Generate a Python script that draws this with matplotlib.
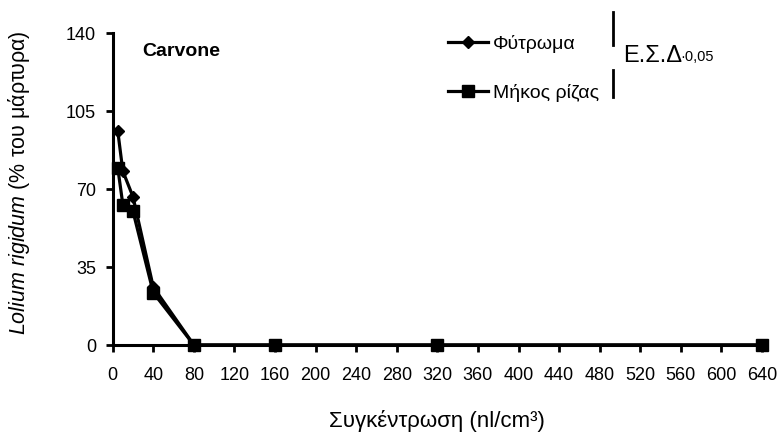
import matplotlib
matplotlib.use("Agg")
import matplotlib.pyplot as plt

plt.rcParams['font.family'] = ['Liberation Sans', 'DejaVu Sans']
plt.rcParams['mathtext.fontset'] = 'custom'
plt.rcParams['mathtext.rm'] = 'Liberation Sans'
plt.rcParams['mathtext.it'] = 'Liberation Sans:italic'

# Concentrations (nl/cm3) and responses (% of control)
conc = [5, 10, 20, 40, 80, 160, 320, 640]
germination = [96, 78, 66.5, 26, 0, 0, 0, 0]      # Φύτρωμα
root_length = [79.5, 63, 60, 23.5, 0, 0, 0, 0]    # Μήκος ρίζας
lsd_values = [14.8, 12.1]                          # Ε.Σ.Δ. 0,05 bars

series_labels = ['Φύτρωμα', 'Μήκος ρίζας']
x_ticks = list(range(0, 641, 40))
y_ticks = [0, 35, 70, 105, 140]

fig = plt.figure(figsize=(7.81, 4.40), dpi=100)
ax = fig.add_axes([112.7 / 781, 1 - 345 / 440, (762 - 112.7) / 781, (345 - 33) / 440])

ax.plot(conc, germination, color='black', lw=2.3, marker='D', ms=6.5,
        label=series_labels[0], clip_on=False, zorder=3)
ax.plot(conc, root_length, color='black', lw=2.3, marker='s', ms=8.5,
        label=series_labels[1], clip_on=False, zorder=3)

ax.set_xlim(0, 640)
ax.set_ylim(0, 140)
ax.set_xticks(x_ticks)
ax.set_yticks(y_ticks)
ax.tick_params(axis='both', labelsize=13, width=2, length=5, direction='out')
ax.tick_params(axis='x', pad=10.5)
ax.tick_params(axis='y', pad=7)
for side in ('top', 'right'):
    ax.spines[side].set_visible(False)
for side in ('left', 'bottom'):
    ax.spines[side].set_linewidth(2.2)

ax.set_xlabel('Συγκέντρωση (nl/cm³)', fontsize=16, va='center')
ax.xaxis.set_label_coords(0.5, -0.2436)
ax.set_ylabel(r'$\it{Lolium\ rigidum}$ (% του μάρτυρα)', fontsize=15.5,
              va='center', ha='center')
ax.yaxis.set_label_coords(-0.1443, 0.52)

ax.text(28.9, 131.9, 'Carvone', fontsize=14, fontweight='bold', va='center', ha='left')

leg = ax.legend(loc='upper left', bbox_to_anchor=(438 / 781, 1 - 25 / 440),
                bbox_transform=fig.transFigure, frameon=False, fontsize=14,
                borderpad=0, handlelength=2.06, handletextpad=0.26, labelspacing=1.61)

# LSD bars drawn at data scale above the plotting area
x_bar = 492.8
bar_tops = [149.4, 123.4]
for top, val in zip(bar_tops, lsd_values):
    ax.plot([x_bar, x_bar], [top - val, top], color='black', lw=2, clip_on=False)

fig.text(623 / 781, 1 - 62 / 440, 'Ε.Σ.Δ', fontsize=17, ha='left', va='baseline')
fig.text(680 / 781, 1 - 61 / 440, '·0,05', fontsize=10.5, ha='left', va='baseline')

fig.savefig('out.png', dpi=100)
